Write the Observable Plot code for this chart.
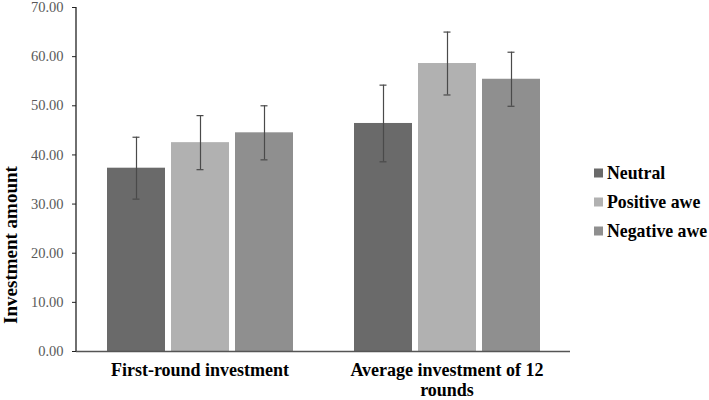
<!DOCTYPE html>
<html>
<head>
<meta charset="utf-8">
<script src="https://cdn.jsdelivr.net/npm/d3@7"></script>
<script src="https://cdn.jsdelivr.net/npm/@observablehq/plot@0.6"></script>
<style>
  html, body { margin: 0; padding: 0; background: #fff; }
  #wrap { position: relative; width: 709px; height: 400px; font-family: "Liberation Serif", "Times New Roman", serif; }
  #ytitle { position: absolute; left: 11px; top: 245px; transform: translate(-50%, -50%) rotate(-90deg); white-space: nowrap; font-weight: bold; font-size: 19px; color: #000; }
  #legend { position: absolute; left: 594px; top: 160px; }
  .item { position: absolute; left: 0; white-space: nowrap; font-weight: bold; font-size: 17.8px; color: #000; display: flex; align-items: center; transform: translateY(-50%); }
  .sw { width: 9px; height: 9px; margin-right: 4px; display: inline-block; }
  svg g[aria-label="fx-axis tick label"] text { font-weight: bold; }
</style>
</head>
<body>
<div id="wrap"><div id="ytitle">Investment amount</div><div id="legend"></div></div>
<script>
const groups = ["First-round investment", "Average investment of 12 rounds"];
const groupLabels = ["First-round investment", "Average investment of 12\nrounds"];
const series = ["Neutral", "Positive awe", "Negative awe"];
const colors = ["#6a6a6a", "#b1b1b1", "#8f8f8f"];
const means = [
  [37.3, 42.5, 44.5],
  [46.4, 58.6, 55.4]
];
const errors = [
  [6.3, 5.5, 5.5],
  [7.8, 6.4, 5.5]
];
const yTicks = [0, 10, 20, 30, 40, 50, 60, 70];

const data = [];
groups.forEach((g, i) => series.forEach((s, j) => {
  data.push({group: g, series: s, value: means[i][j], lo: means[i][j] - errors[i][j], hi: means[i][j] + errors[i][j]});
}));

const W = 709, H = 400, mL = 76, mR = 139, mT = 7, mB = 49;

const plot = Plot.plot({
  width: W, height: H,
  marginLeft: mL, marginRight: mR, marginTop: mT, marginBottom: mB,
  style: {fontFamily: "'Liberation Serif', 'Times New Roman', serif", background: "#fff", color: "#000", overflow: "visible"},
  fx: {domain: groups, paddingInner: 0, paddingOuter: 0, label: null},
  x: {domain: series, paddingInner: 0.1, paddingOuter: 0.46, axis: null},
  y: {domain: [0, 70], label: null},
  color: {domain: series, range: colors},
  marks: [
    Plot.barY(data, {fx: "group", x: "series", y: "value", fill: "series"}),
    Plot.ruleX(data, {fx: "group", x: "series", y1: "lo", y2: "hi", stroke: "#4a4a4a", strokeWidth: 1.2}),
    Plot.tickY(data, {fx: "group", x: "series", y: "lo", stroke: "#4a4a4a", strokeWidth: 1.2, insetLeft: 25.5, insetRight: 25.5}),
    Plot.tickY(data, {fx: "group", x: "series", y: "hi", stroke: "#4a4a4a", strokeWidth: 1.2, insetLeft: 25.5, insetRight: 25.5}),
    Plot.ruleY([0], {stroke: "#555", strokeWidth: 1.5}),
    Plot.axisY(yTicks, {tickSize: 4, text: null, stroke: "#222"}),
    Plot.axisY(yTicks, {tickSize: 0, tickPadding: 13, tickFormat: d3.format(".2f"), fontSize: 14.5, fill: "#595959"}),
    Plot.axisFx({anchor: "bottom", tickSize: 0, tickPadding: 10, fontSize: 18, fontWeight: "bold", lineHeight: 1.12,
      tickFormat: d => groupLabels[groups.indexOf(d)], fill: "#000"})
  ]
});

// vertical axis line drawn through the plot's own y scale
const ys = plot.scale("y");
d3.select(plot).append("line")
  .attr("x1", mL).attr("x2", mL)
  .attr("y1", ys.apply(70)).attr("y2", ys.apply(0))
  .attr("stroke", "#222").attr("stroke-width", 1.3);

const wrap = document.getElementById("wrap");
wrap.insertBefore(plot, wrap.firstChild);
plot.style.position = "absolute";
plot.style.left = "0";
plot.style.top = "0";

const legend = document.getElementById("legend");
series.forEach((s, i) => {
  const it = document.createElement("div");
  it.className = "item";
  it.style.top = (13 + i * 29) + "px";
  it.innerHTML = `<span class="sw" style="background:${colors[i]}"></span><span>${s}</span>`;
  legend.appendChild(it);
});
</script>
</body>
</html>
